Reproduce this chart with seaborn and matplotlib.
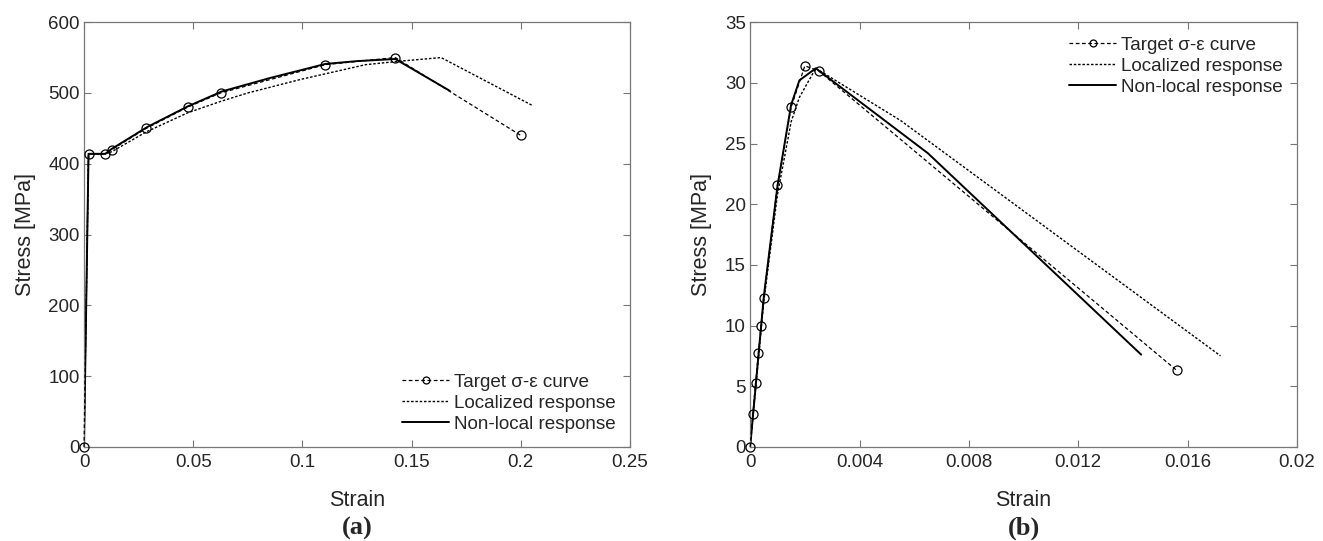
import matplotlib
matplotlib.use("Agg")
import matplotlib.pyplot as plt
import seaborn as sns
import pandas as pd

sns.set_style("white")
plt.rcParams["font.family"] = ["Liberation Sans", "DejaVu Sans"]

# ---- (a) steel: stress-strain data ----
a_target_strain = [0.0, 0.00207, 0.0097, 0.0127, 0.0285, 0.0475, 0.0625, 0.1105, 0.1425, 0.2]
a_target_stress = [0.0, 414, 414, 420, 450, 480, 500, 540, 550, 440]

a_local_strain = [0.0, 0.00207, 0.0097, 0.0127, 0.0285, 0.0475, 0.0625, 0.075, 0.099, 0.129, 0.145, 0.1635, 0.2055]
a_local_stress = [0.0, 414, 414, 417, 445, 472, 488, 500, 519, 540, 545, 550, 482]

a_nonlocal_strain = [0.0, 0.00207, 0.0097, 0.0127, 0.029, 0.0475, 0.063, 0.085, 0.1105, 0.125, 0.1425, 0.1675]
a_nonlocal_stress = [0.0, 414, 414, 421, 452, 481, 502, 521, 541, 545, 548, 503]

# ---- (b) concrete: stress-strain data ----
b_target_strain = [0.0, 0.0001, 0.0002, 0.0003, 0.0004, 0.0005, 0.001, 0.0015, 0.002, 0.0025, 0.0156]
b_target_stress = [0.0, 2.7, 5.3, 7.7, 10.0, 12.3, 21.6, 28.0, 31.4, 31.0, 6.3]

b_local_strain = [0.0, 0.0005, 0.001, 0.0015, 0.0018, 0.0024, 0.0055, 0.0172]
b_local_stress = [0.0, 12.0, 20.8, 26.8, 28.8, 31.2, 26.9, 7.5]

b_nonlocal_strain = [0.0, 0.0005, 0.001, 0.0015, 0.0018, 0.0024, 0.0065, 0.0143]
b_nonlocal_stress = [0.0, 12.4, 21.5, 28.2, 30.2, 31.2, 24.2, 7.6]

labels = ["Target \u03c3-\u03b5 curve", "Localized response", "Non-local response"]


def draw_panel(ax, target, local, nonlocal_):
    df_t = pd.DataFrame({"Strain": target[0], "Stress": target[1]})
    df_l = pd.DataFrame({"Strain": local[0], "Stress": local[1]})
    df_n = pd.DataFrame({"Strain": nonlocal_[0], "Stress": nonlocal_[1]})
    sns.lineplot(data=df_t, x="Strain", y="Stress", ax=ax, sort=False, estimator=None,
                 color="black", lw=0.9, linestyle=(0, (3, 2)), marker="o", markersize=6.5,
                 markerfacecolor="none", markeredgecolor="black", markeredgewidth=0.9,
                 label=labels[0], clip_on=False, zorder=3)
    sns.lineplot(data=df_l, x="Strain", y="Stress", ax=ax, sort=False, estimator=None,
                 color="black", lw=1.0, linestyle=(0, (1.8, 1.3)), label=labels[1])
    sns.lineplot(data=df_n, x="Strain", y="Stress", ax=ax, sort=False, estimator=None,
                 color="black", lw=1.4, linestyle="-", label=labels[2])


fig = plt.figure(figsize=(13.23, 5.41), dpi=100)
ax1 = fig.add_axes([0.0635, 0.174, 0.4127, 0.785])
ax2 = fig.add_axes([0.567, 0.174, 0.4134, 0.785])

draw_panel(ax1, (a_target_strain, a_target_stress), (a_local_strain, a_local_stress),
           (a_nonlocal_strain, a_nonlocal_stress))
draw_panel(ax2, (b_target_strain, b_target_stress), (b_local_strain, b_local_stress),
           (b_nonlocal_strain, b_nonlocal_stress))

ax1.set_xlim(0, 0.25)
ax1.set_ylim(0, 600)
ax1.set_xticks([0, 0.05, 0.1, 0.15, 0.2, 0.25])
ax1.set_xticklabels(["0", "0.05", "0.1", "0.15", "0.2", "0.25"])
ax1.set_yticks([0, 100, 200, 300, 400, 500, 600])

ax2.set_xlim(0, 0.02)
ax2.set_ylim(0, 35)
ax2.set_xticks([0, 0.004, 0.008, 0.012, 0.016, 0.02])
ax2.set_xticklabels(["0", "0.004", "0.008", "0.012", "0.016", "0.02"])
ax2.set_yticks([0, 5, 10, 15, 20, 25, 30, 35])

for ax, loc, tag in [(ax1, "lower right", "(a)"), (ax2, "upper right", "(b)")]:
    ax.set_xlabel("Strain", fontsize=15.5, labelpad=14)
    ax.set_ylabel("Stress [MPa]", fontsize=15.5, labelpad=9)
    ax.tick_params(direction="in", length=5, width=0.8, color="#777777",
                   labelsize=13.5, pad=3, top=True, right=True, bottom=True, left=True)
    ax.tick_params(axis="x", pad=5)
    for s in ax.spines.values():
        s.set_color("#777777")
        s.set_linewidth(0.9)
    leg = ax.legend(loc=loc, frameon=False, fontsize=13.6, handlelength=2.5,
                    handletextpad=0.25, labelspacing=0.2, borderaxespad=0.35)
    for h in leg.legend_handles:
        if h.get_marker() == "o":
            h.set_markersize(5)
    bb = ax.get_position()
    fig.text(bb.x0 + bb.width / 2, 0.024, tag, ha="center", va="center",
             fontsize=19, fontweight="bold", family="Liberation Serif")

fig.savefig("out.png", dpi=100)
